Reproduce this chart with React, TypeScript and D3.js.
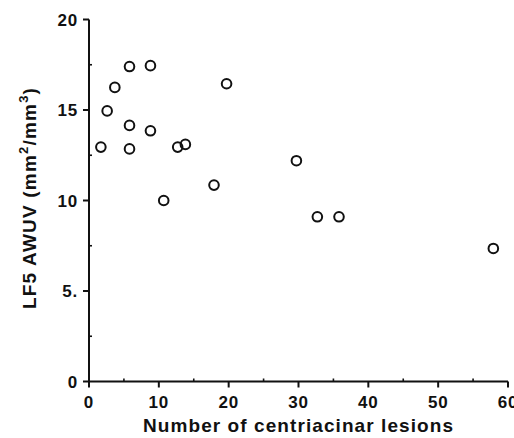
import * as d3 from "d3";

// lesions counted vs LF5 AWUV
const lesions = [1.7, 2.6, 3.7, 5.8, 8.8, 19.7, 5.8, 8.8, 5.8, 12.7, 13.8, 17.9, 10.7, 29.7, 32.7, 35.8, 57.9];
const awuv = [12.95, 14.95, 16.25, 17.4, 17.45, 16.45, 14.15, 13.85, 12.85, 12.95, 13.1, 10.85, 10.0, 12.2, 9.1, 9.1, 7.35];
const xTicks = [0, 10, 20, 30, 40, 50, 60];
const xMinor = [5, 15, 25, 35, 45, 55];
const yTicks = [0, 5, 10, 15, 20];
const yTickLabels = ["0", "5.", "10", "15", "20"];
const yMinor = [2.5, 7.5, 12.5, 17.5];

const W = 514;
const H = 438;

export default function App() {
  const x = d3.scaleLinear().domain([0, 60]).range([89, 508]);
  const y = d3.scaleLinear().domain([0, 20]).range([381.5, 19.5]);
  const font = "'Liberation Sans', Arial, Helvetica, sans-serif";
  const pts = d3.zip(lesions, awuv);

  return (
    <svg
      width={W}
      height={H}
      style={{ position: "absolute", left: 0, top: 0, background: "#fff" }}
      fontFamily={font}
    >
      {/* axes */}
      <g stroke="#111" strokeWidth={2} fill="none">
        <line x1={x(0)} x2={x(60)} y1={y(0)} y2={y(0)} />
        <line x1={x(0)} x2={x(0)} y1={y(0)} y2={y(20)} />
        {xTicks.map((t) => (
          <line key={"xt" + t} x1={x(t)} x2={x(t)} y1={y(0)} y2={y(0) + 6} />
        ))}
        {xMinor.map((t) => (
          <line key={"xm" + t} x1={x(t)} x2={x(t)} y1={y(0)} y2={y(0) - 3} strokeWidth={1.6} />
        ))}
        {yTicks.map((t) => (
          <line key={"yt" + t} x1={x(0) - 6} x2={x(0)} y1={y(t)} y2={y(t)} />
        ))}
        {yMinor.map((t) => (
          <line key={"ym" + t} x1={x(0)} x2={x(0) + 3} y1={y(t)} y2={y(t)} strokeWidth={1.6} />
        ))}
      </g>

      {/* tick labels */}
      <g fill="#111" fontSize={17} fontWeight={700} letterSpacing={0.8}>
        {xTicks.map((t) => (
          <text key={"xl" + t} x={x(t)} y={y(0) + 26} textAnchor="middle">
            {t}
          </text>
        ))}
        {yTicks.map((t, i) => (
          <text key={"yl" + t} x={x(0) - 11} y={y(t) + 6} textAnchor="end">
            {yTickLabels[i]}
          </text>
        ))}
      </g>

      {/* points */}
      <g fill="none" stroke="#111" strokeWidth={2}>
        {pts.map(([a, b], i) => (
          <circle key={i} cx={x(a)} cy={y(b)} r={4.8} />
        ))}
      </g>

      {/* axis titles */}
      <text
        x={298}
        y={432}
        textAnchor="middle"
        fontSize={19}
        fontWeight={700}
        fill="#111"
        textLength={310}
        lengthAdjust="spacing"
      >
        Number of centriacinar lesions
      </text>
      <text
        transform={`translate(36, 198) rotate(-90)`}
        textAnchor="middle"
        fontSize={19}
        fontWeight={700}
        fill="#111"
        letterSpacing={1.2}
      >
        LF5 AWUV (mm
        <tspan dy={-8} fontSize={13}>2</tspan>
        <tspan dy={8}>/mm</tspan>
        <tspan dy={-8} fontSize={13}>3</tspan>
        <tspan dy={8}>)</tspan>
      </text>
    </svg>
  );
}
